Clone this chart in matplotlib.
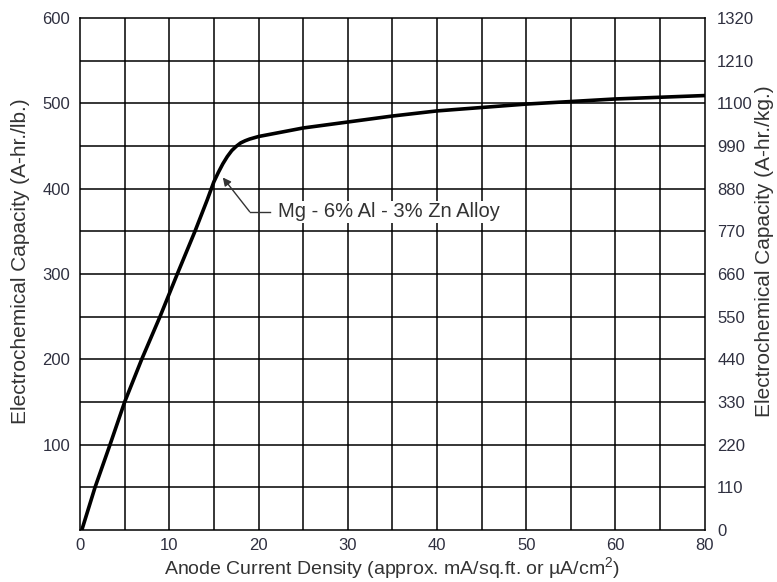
import matplotlib
matplotlib.use('Agg')
import matplotlib.pyplot as plt

plt.rcParams['font.family'] = ['Liberation Sans', 'DejaVu Sans']
plt.rcParams['mathtext.fontset'] = 'custom'
plt.rcParams['mathtext.rm'] = 'Liberation Sans'

# curve (x in grid units, y in A-hr/lb)
density = [0.2, 1.68, 3.36, 5, 6.91, 8.96, 10.9, 12.88, 14.26, 15, 15.5, 16, 16.5, 17, 17.5,
           18, 18.5, 19, 20, 25, 30, 35, 40, 45, 50, 55, 60, 65, 70]
capacity = [0, 50, 100, 150, 200, 250, 300, 350, 387, 408, 419, 429, 437.5, 444.5, 449.5,
            453.5, 456, 458, 461, 471, 478, 485, 491, 495, 499, 502, 505, 507, 509]

x_ticks = [0, 10, 20, 30, 40, 50, 60, 70]
x_labels = ['0', '10', '20', '30', '40', '50', '60', '80']
y_left = [100, 200, 300, 400, 500, 600]
y_right = [0, 110, 220, 330, 440, 550, 660, 770, 880, 990, 1100, 1210, 1320]

tick_col = '#2f3040'
lab_col = '#333333'

fig = plt.figure(figsize=(7.77, 5.82), dpi=100)
ax = fig.add_axes([0.103, 0.0893, 0.804, 0.88])

ax.set_xlim(0, 70)
ax.set_ylim(0, 600)

# grid every 5 in x, every 50 in y
for gx in range(5, 70, 5):
    ax.axvline(gx, color='black', lw=1.1, zorder=1)
for gy in range(50, 600, 50):
    ax.axhline(gy, color='black', lw=1.1, zorder=1)

ax.plot(density, capacity, color='black', lw=2.6, zorder=3,
        solid_capstyle='round', solid_joinstyle='round')

ax.annotate('', xy=(16.0, 413), xytext=(19.0, 373),
            arrowprops=dict(arrowstyle='-|>', color='#333333', lw=1.0,
                            mutation_scale=12, shrinkA=0, shrinkB=0), zorder=4)
ax.plot([19.0, 21.3], [373, 373], color='#333333', lw=1.0, zorder=4)
ax.text(22.2, 373, 'Mg - 6% Al - 3% Zn Alloy', fontsize=14.5, color=lab_col,
        va='center', ha='left', zorder=5,
        bbox=dict(facecolor='white', edgecolor='none', pad=1))

ax.set_xticks(x_ticks)
ax.set_xticklabels(x_labels)
ax.set_yticks(y_left)
ax.tick_params(length=0, labelsize=12, colors=tick_col)
ax.tick_params(axis='x', pad=6)
ax.tick_params(axis='y', pad=7)
for sp in ax.spines.values():
    sp.set_color('black')
    sp.set_linewidth(1.1)

ax2 = ax.twinx()
ax2.set_ylim(0, 1320)
ax2.set_yticks(y_right)
ax2.tick_params(length=0, labelsize=12, colors=tick_col, pad=9)
for sp in ax2.spines.values():
    sp.set_visible(False)

ax.set_xlabel('Anode Current Density (approx. mA/sq.ft. or µA/cm$^{\\mathrm{2}}$)',
              fontsize=14, color=lab_col)
ax.xaxis.set_label_coords(0.5, -0.05)
ax.set_ylabel('Electrochemical Capacity (A-hr./lb.)', fontsize=15, color=lab_col)
ax.yaxis.set_label_coords(-0.08, 0.525)
ax2.set_ylabel('Electrochemical Capacity (A-hr./kg.)', fontsize=15, color=lab_col)
ax2.yaxis.set_label_coords(1.08, 0.545)

fig.savefig('out.png', dpi=100)
